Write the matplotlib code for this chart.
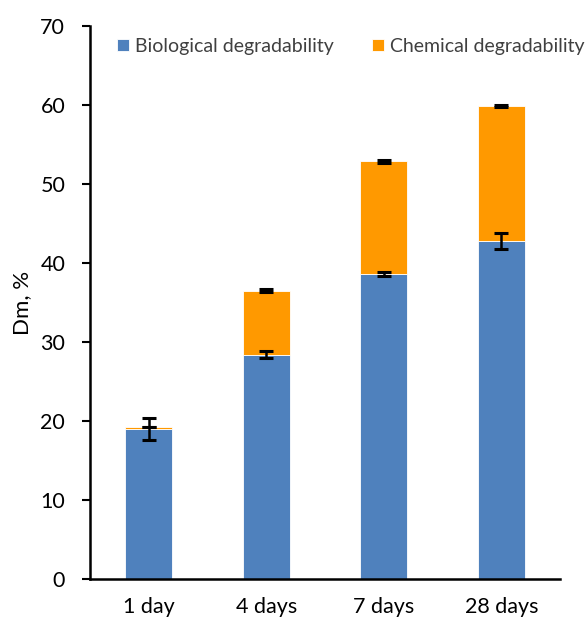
import matplotlib
matplotlib.use("Agg")
import matplotlib.pyplot as plt
import numpy as np

# degradability by incubation time
days = ["1 day", "4 days", "7 days", "28 days"]
biological = [19.0, 28.4, 38.6, 42.8]
chemical = [0.3, 8.1, 14.3, 17.1]
bio_err = [1.4, 0.45, 0.3, 1.0]
chem_err = [0.0, 0.2, 0.2, 0.15]

plt.rcParams['font.family'] = ['Lato', 'DejaVu Sans']

fig = plt.figure(figsize=(5.86, 6.21), dpi=100)
ax = fig.add_axes([0.154, 0.0676, 0.802, 0.8904])

x = np.arange(len(days))
total = np.array(biological) + np.array(chemical)
w = 0.4
ax.bar(x, biological, w, color='#4F81BD', edgecolor='white', linewidth=0.6,
       label='Biological degradability')
ax.bar(x, chemical, w, bottom=biological, color='#FF9900', edgecolor='white',
       linewidth=0.6, label='Chemical degradability')

ax.errorbar(x, biological, yerr=bio_err, fmt='none', ecolor='black',
            elinewidth=1.8, capsize=5, capthick=2.2)
ax.errorbar(x, total, yerr=chem_err, fmt='none', ecolor='black',
            elinewidth=1.8, capsize=5, capthick=2.2)

ax.set_xlim(-0.5, 3.5)
ax.set_ylim(0, 70)
ax.set_yticks(range(0, 71, 10))
ax.set_xticks(x)
ax.set_xticklabels(days)
ax.tick_params(axis='x', length=0, labelsize=15.5, pad=13)
ax.tick_params(axis='y', length=6, width=1.5, labelsize=15.5, pad=12)
ax.set_ylabel('Dm, %', fontsize=16, labelpad=6)

for s in ['top', 'right']:
    ax.spines[s].set_visible(False)
for s in ['left', 'bottom']:
    ax.spines[s].set_linewidth(1.8)

ax.legend(loc='upper left', ncol=2, frameon=False, fontsize=14,
          handlelength=0.6, handleheight=0.6, handletextpad=0.3,
          columnspacing=2.0, bbox_to_anchor=(0.02, 1.01),
          labelcolor='#404040')

fig.savefig('out.png', dpi=100)
